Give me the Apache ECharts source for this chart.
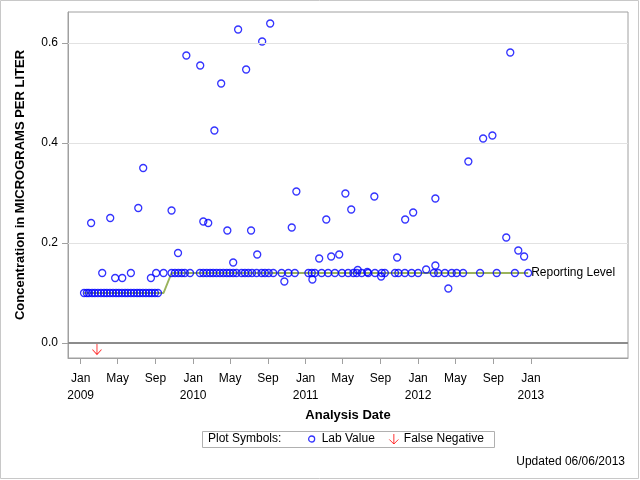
<!DOCTYPE html>
<html>
<head>
<meta charset="utf-8">
<script src="https://cdn.jsdelivr.net/npm/echarts@6/dist/echarts.min.js"></script>
<style>html,body{margin:0;padding:0;background:#fff}#c{width:640px;height:480px}</style>
</head>
<body>
<div id="c"></div>
<script>
const labDates = [
'2009-01-12','2009-01-21','2009-01-28','2009-02-04','2009-02-07','2009-02-16','2009-02-26','2009-03-08','2009-03-12','2009-03-18',
'2009-03-27','2009-04-06','2009-04-07','2009-04-16','2009-04-23','2009-04-26','2009-05-05','2009-05-15','2009-05-16','2009-05-25',
'2009-06-03','2009-06-13','2009-06-13','2009-06-23','2009-07-03','2009-07-07','2009-07-12','2009-07-22','2009-07-23','2009-08-01',
'2009-08-11','2009-08-17','2009-08-20','2009-08-30','2009-09-03','2009-09-09','2009-09-27','2009-10-23','2009-10-23','2009-11-03',
'2009-11-13','2009-11-14','2009-11-25','2009-12-05','2009-12-10','2009-12-22',
'2010-01-23','2010-01-24','2010-02-03','2010-02-03','2010-02-14','2010-02-19','2010-02-25','2010-03-07','2010-03-11','2010-03-18',
'2010-03-29','2010-04-02','2010-04-09','2010-04-20','2010-04-22','2010-04-30','2010-05-11','2010-05-11','2010-05-22','2010-05-27',
'2010-06-07','2010-06-18','2010-06-22','2010-06-29','2010-07-08','2010-07-11','2010-07-26','2010-07-28','2010-08-11','2010-08-13',
'2010-08-22','2010-09-03','2010-09-08','2010-09-18','2010-10-15','2010-10-24','2010-11-06','2010-11-17','2010-11-27','2010-12-02',
'2011-01-10','2011-01-21','2011-01-23','2011-01-31','2011-02-14','2011-02-22','2011-03-09','2011-03-15','2011-03-25','2011-04-06',
'2011-04-20','2011-04-29','2011-05-10','2011-05-19','2011-05-29','2011-06-05','2011-06-16','2011-06-19','2011-07-02','2011-07-20',
'2011-07-23','2011-08-12','2011-08-14','2011-09-03','2011-09-05','2011-09-15','2011-10-18','2011-10-25','2011-10-29','2011-11-19',
'2011-11-20','2011-12-11','2011-12-16',
'2012-01-01','2012-01-27','2012-02-21','2012-02-26','2012-02-26','2012-03-06','2012-03-28','2012-04-08','2012-04-19','2012-05-05',
'2012-05-26','2012-06-12','2012-07-20','2012-07-30','2012-08-29','2012-09-12','2012-10-13','2012-10-26','2012-11-10','2012-11-21',
'2012-12-10','2012-12-23'
];
const labValues = [
0.10,0.10,0.10,0.24,0.10,0.10,0.10,0.10,0.14,0.10,
0.10,0.10,0.25,0.10,0.13,0.10,0.10,0.10,0.13,0.10,
0.10,0.10,0.14,0.10,0.10,0.27,0.10,0.10,0.35,0.10,
0.10,0.13,0.10,0.10,0.14,0.10,0.14,0.14,0.265,0.14,
0.18,0.14,0.14,0.14,0.575,0.14,
0.14,0.555,0.14,0.243,0.14,0.24,0.14,0.14,0.425,0.14,
0.14,0.519,0.14,0.14,0.225,0.14,0.14,0.161,0.14,0.627,
0.14,0.14,0.547,0.14,0.225,0.14,0.14,0.177,0.14,0.603,
0.14,0.14,0.639,0.14,0.14,0.123,0.14,0.231,0.14,0.303,
0.14,0.14,0.127,0.14,0.169,0.14,0.247,0.14,0.173,0.14,
0.177,0.14,0.299,0.14,0.267,0.14,0.14,0.146,0.14,0.142,
0.14,0.293,0.14,0.133,0.14,0.14,0.14,0.171,0.14,0.14,
0.247,0.14,0.261,
0.14,0.147,0.14,0.289,0.155,0.14,0.14,0.109,0.14,0.14,
0.14,0.363,0.14,0.409,0.415,0.14,0.211,0.581,0.14,0.185,
0.173,0.14
];
const falseNegDates = ['2009-02-23'];
const falseNegValues = [0];
const reportDates = ['2009-01-12','2009-09-27','2009-10-23','2012-12-23'];
const reportValues = [0.10,0.10,0.14,0.14];
const yTicks = [0, 0.2, 0.4, 0.6];
const xTickDates = ['2009-01-01','2009-05-01','2009-09-01','2010-01-01','2010-05-01','2010-09-01','2011-01-01','2011-05-01','2011-09-01','2012-01-01','2012-05-01','2012-09-01','2013-01-01'];
const monthNames = ['Jan','Feb','Mar','Apr','May','Jun','Jul','Aug','Sep','Oct','Nov','Dec'];

function ts(s){const p=s.split('-').map(Number);return Date.UTC(p[0],p[1]-1,p[2]);}
const FONT = 'Arial, "Liberation Sans", sans-serif';

const labData = labDates.map((d,i)=>[ts(d), labValues[i]]);
const fnData = falseNegDates.map((d,i)=>[ts(d), falseNegValues[i]]);
const rlData = reportDates.map((d,i)=>[ts(d), reportValues[i]]);
const xTicks = xTickDates.map(ts);
const ARROW = 'path://M5 0 L5 11 M0 6 L5 11 L10 6';

const chart = echarts.init(document.getElementById('c'), null, {renderer:'canvas'});
chart.setOption({
  animation:false,
  backgroundColor:'#fff',
  textStyle:{fontFamily:FONT},
  grid:{left:68, top:12, right:12, bottom:122, show:true, borderColor:'#a0a0a0', borderWidth:1, containLabel:false},
  xAxis:{
    type:'value', min:ts('2008-11-21'), max:ts('2013-11-12'),
    name:'Analysis Date', nameLocation:'middle', nameGap:50,
    nameTextStyle:{fontFamily:FONT, fontWeight:'bold', fontSize:13, color:'#000'},
    axisLine:{show:true, onZero:false, lineStyle:{color:'#a0a0a0'}},
    axisTick:{show:true, inside:false, length:6, customValues:xTicks, lineStyle:{color:'#a0a0a0'}},
    axisLabel:{customValues:xTicks, fontFamily:FONT, fontSize:12, color:'#000', margin:12, lineHeight:17, hideOverlap:false,
      formatter:function(v){const d=new Date(v);const m=monthNames[d.getUTCMonth()];return d.getUTCMonth()===0? m+'\n'+d.getUTCFullYear() : m;}},
    splitLine:{show:false}
  },
  yAxis:{
    type:'value', min:-0.03, max:0.662,
    name:'Concentration in MICROGRAMS PER LITER', nameLocation:'middle', nameGap:41,
    nameTextStyle:{fontFamily:FONT, fontWeight:'bold', fontSize:13, color:'#000'},
    axisLine:{show:true, onZero:false, lineStyle:{color:'#a0a0a0'}},
    axisTick:{show:true, inside:false, length:6, customValues:yTicks, lineStyle:{color:'#a0a0a0'}},
    axisLabel:{customValues:yTicks, fontFamily:FONT, fontSize:12, color:'#000', margin:10,
      formatter:function(v){return v.toFixed(1);}},
    splitLine:{show:false}
  },
  legend:{
    data:[
      {name:'Lab Value', icon:'path://M0 0 M10 10 M8 5 A3 3 0 1 1 2 5 A3 3 0 1 1 8 5 Z',
        itemStyle:{color:'rgba(0,0,0,0)', borderColor:'#0000ff', borderWidth:1.3}},
      {name:'False Negative', icon:ARROW,
        itemStyle:{color:'rgba(0,0,0,0)', borderColor:'#ff0000', borderWidth:1}}
    ],
    left:306, top:433, padding:0,
    itemWidth:10, itemHeight:10, itemGap:14,
    textStyle:{fontFamily:FONT, fontSize:12, color:'#000'}, selectedMode:false
  },
  graphic:[
    {type:'rect', shape:{x:0.5,y:0.5,width:638,height:478}, style:{fill:'none', stroke:'#c8c8c8', lineWidth:1}, silent:true},
    {type:'rect', shape:{x:202.5,y:431.5,width:292,height:16}, style:{fill:'none', stroke:'#b0b0b0', lineWidth:1}, silent:true},
    {type:'text', left:208, top:433, style:{text:'Plot Symbols:', font:'12px '+FONT, fill:'#000'}},
    {type:'text', right:15, top:456, style:{text:'Updated 06/06/2013', font:'12px '+FONT, fill:'#000'}}
  ],
  series:[
    {
      name:'Reporting Level', type:'line', data:rlData, symbol:'none', z:2,
      lineStyle:{color:'#9ab35c', width:2},
      endLabel:{show:true, formatter:'Reporting Level', fontFamily:FONT, fontSize:12, color:'#000', distance:3},
      markLine:{silent:true, symbol:'none', label:{show:false}, animation:false,
        data:[
          {yAxis:0.2, lineStyle:{color:'#e2e2e2', width:1, type:'solid'}},
          {yAxis:0.4, lineStyle:{color:'#e2e2e2', width:1, type:'solid'}},
          {yAxis:0.6, lineStyle:{color:'#e2e2e2', width:1, type:'solid'}},
          {yAxis:0, lineStyle:{color:'#8c8c8c', width:2, type:'solid'}}
        ]}
    },
    {
      name:'Lab Value', type:'scatter', data:labData, symbol:'circle', symbolSize:7, z:3,
      itemStyle:{color:'rgba(0,0,0,0)', borderColor:'#0000ff', borderWidth:1.3}
    },
    {
      name:'False Negative', type:'scatter', data:fnData, z:3,
      symbol:ARROW, symbolSize:[10,11], symbolOffset:[0,6], symbolKeepAspect:true,
      itemStyle:{color:'rgba(0,0,0,0)', borderColor:'#ff0000', borderWidth:1}
    }
  ]
});
</script>
</body>
</html>
